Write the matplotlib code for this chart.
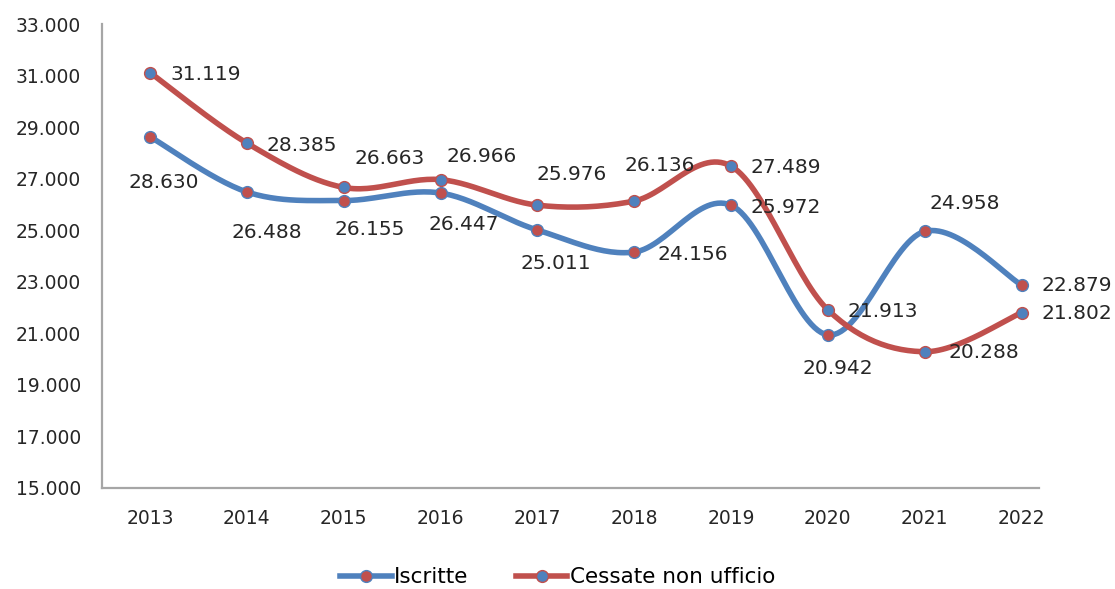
import numpy as np
import matplotlib
matplotlib.use("Agg")
import matplotlib.pyplot as plt
from matplotlib.lines import Line2D

years = ["2013", "2014", "2015", "2016", "2017", "2018", "2019", "2020", "2021", "2022"]
iscritte = [28630, 26488, 26155, 26447, 25011, 24156, 25972, 20942, 24958, 22879]
cessate = [31119, 28385, 26663, 26966, 25976, 26136, 27489, 21913, 20288, 21802]

BLUE = "#4F81BD"
RED = "#C0504D"
TEXT = "#262626"

# label offsets in pixels (dx, dy down) from each point
off_isc = [(14, 46), (20, 41), (26, 29), (23, 31), (18, 33),
           (59, 2), (55, 2), (10, 34), (40, -28), (55, 1)]
off_ces = [(56, 2), (55, 2), (46, -29), (41, -23), (34, -31),
           (25, -36), (55, 1), (55, 2), (59, 1), (55, 1)]


def smooth(xs, ys, n=30):
    # excel-like smoothed line: bezier segments with catmull-rom control points
    p = np.column_stack([xs, ys]).astype(float)
    out = []
    for i in range(len(p) - 1):
        p0 = p[i - 1] if i > 0 else p[i]
        p3 = p[i + 2] if i + 2 < len(p) else p[i + 1]
        c1 = p[i] + (p[i + 1] - p0) / 6
        c2 = p[i + 1] - (p3 - p[i]) / 6
        t = np.linspace(0, 1, n)[:, None]
        seg = ((1 - t) ** 3 * p[i] + 3 * (1 - t) ** 2 * t * c1
               + 3 * (1 - t) * t ** 2 * c2 + t ** 3 * p[i + 1])
        out.append(seg if i == 0 else seg[1:])
    out = np.vstack(out)
    return out[:, 0], out[:, 1]


def fmt(v):
    return f"{v:,}".replace(",", ".")


fig = plt.figure(figsize=(11.15, 5.89), dpi=100)
ax = fig.add_axes([0.0915, 0.1715, 0.8403, 0.7875])

x = np.arange(len(years))
for vals, line_col, face_col, offs in [(iscritte, BLUE, RED, off_isc),
                                       (cessate, RED, BLUE, off_ces)]:
    sx, sy = smooth(x, vals)
    ax.plot(sx, sy, color=line_col, lw=4, solid_capstyle="round", zorder=2)
    ax.plot(x, vals, ls="none", marker="o", ms=8.5, mfc=face_col,
            mec=line_col, mew=1.0, zorder=3)
    for xi, v, (dx, dy) in zip(x, vals, offs):
        ax.annotate(fmt(v), (xi, v), xytext=(dx, -dy), textcoords="offset pixels",
                    ha="center", va="center", fontsize=14.5, color=TEXT)

ax.set_xlim(-0.496, 9.18)
ax.set_ylim(15000, 33000)
ax.set_yticks(range(15000, 33001, 2000))
ax.set_yticklabels([fmt(v) for v in range(15000, 33001, 2000)])
ax.set_xticks(x)
ax.set_xticklabels(years)
ax.tick_params(length=0, labelsize=13.5, labelcolor=TEXT)
ax.tick_params(axis="x", pad=15)
ax.tick_params(axis="y", pad=15)

for s in ["top", "right"]:
    ax.spines[s].set_visible(False)
for s in ["left", "bottom"]:
    ax.spines[s].set_color("#A6A6A6")
    ax.spines[s].set_linewidth(1.6)

handles = [
    Line2D([], [], color=BLUE, lw=4, marker="o", ms=8.5, mfc=RED, mec=BLUE, mew=1.0),
    Line2D([], [], color=RED, lw=4, marker="o", ms=8.5, mfc=BLUE, mec=RED, mew=1.0),
]
fig.legend(handles, ["Iscritte", "Cessate non ufficio"], loc="center",
           bbox_to_anchor=(0.5, 0.02), ncol=2, frameon=False, fontsize=15.5,
           handlelength=2.4, handletextpad=0.1, columnspacing=2.2,
           labelcolor="#000000")

fig.savefig("out.png", dpi=100)
